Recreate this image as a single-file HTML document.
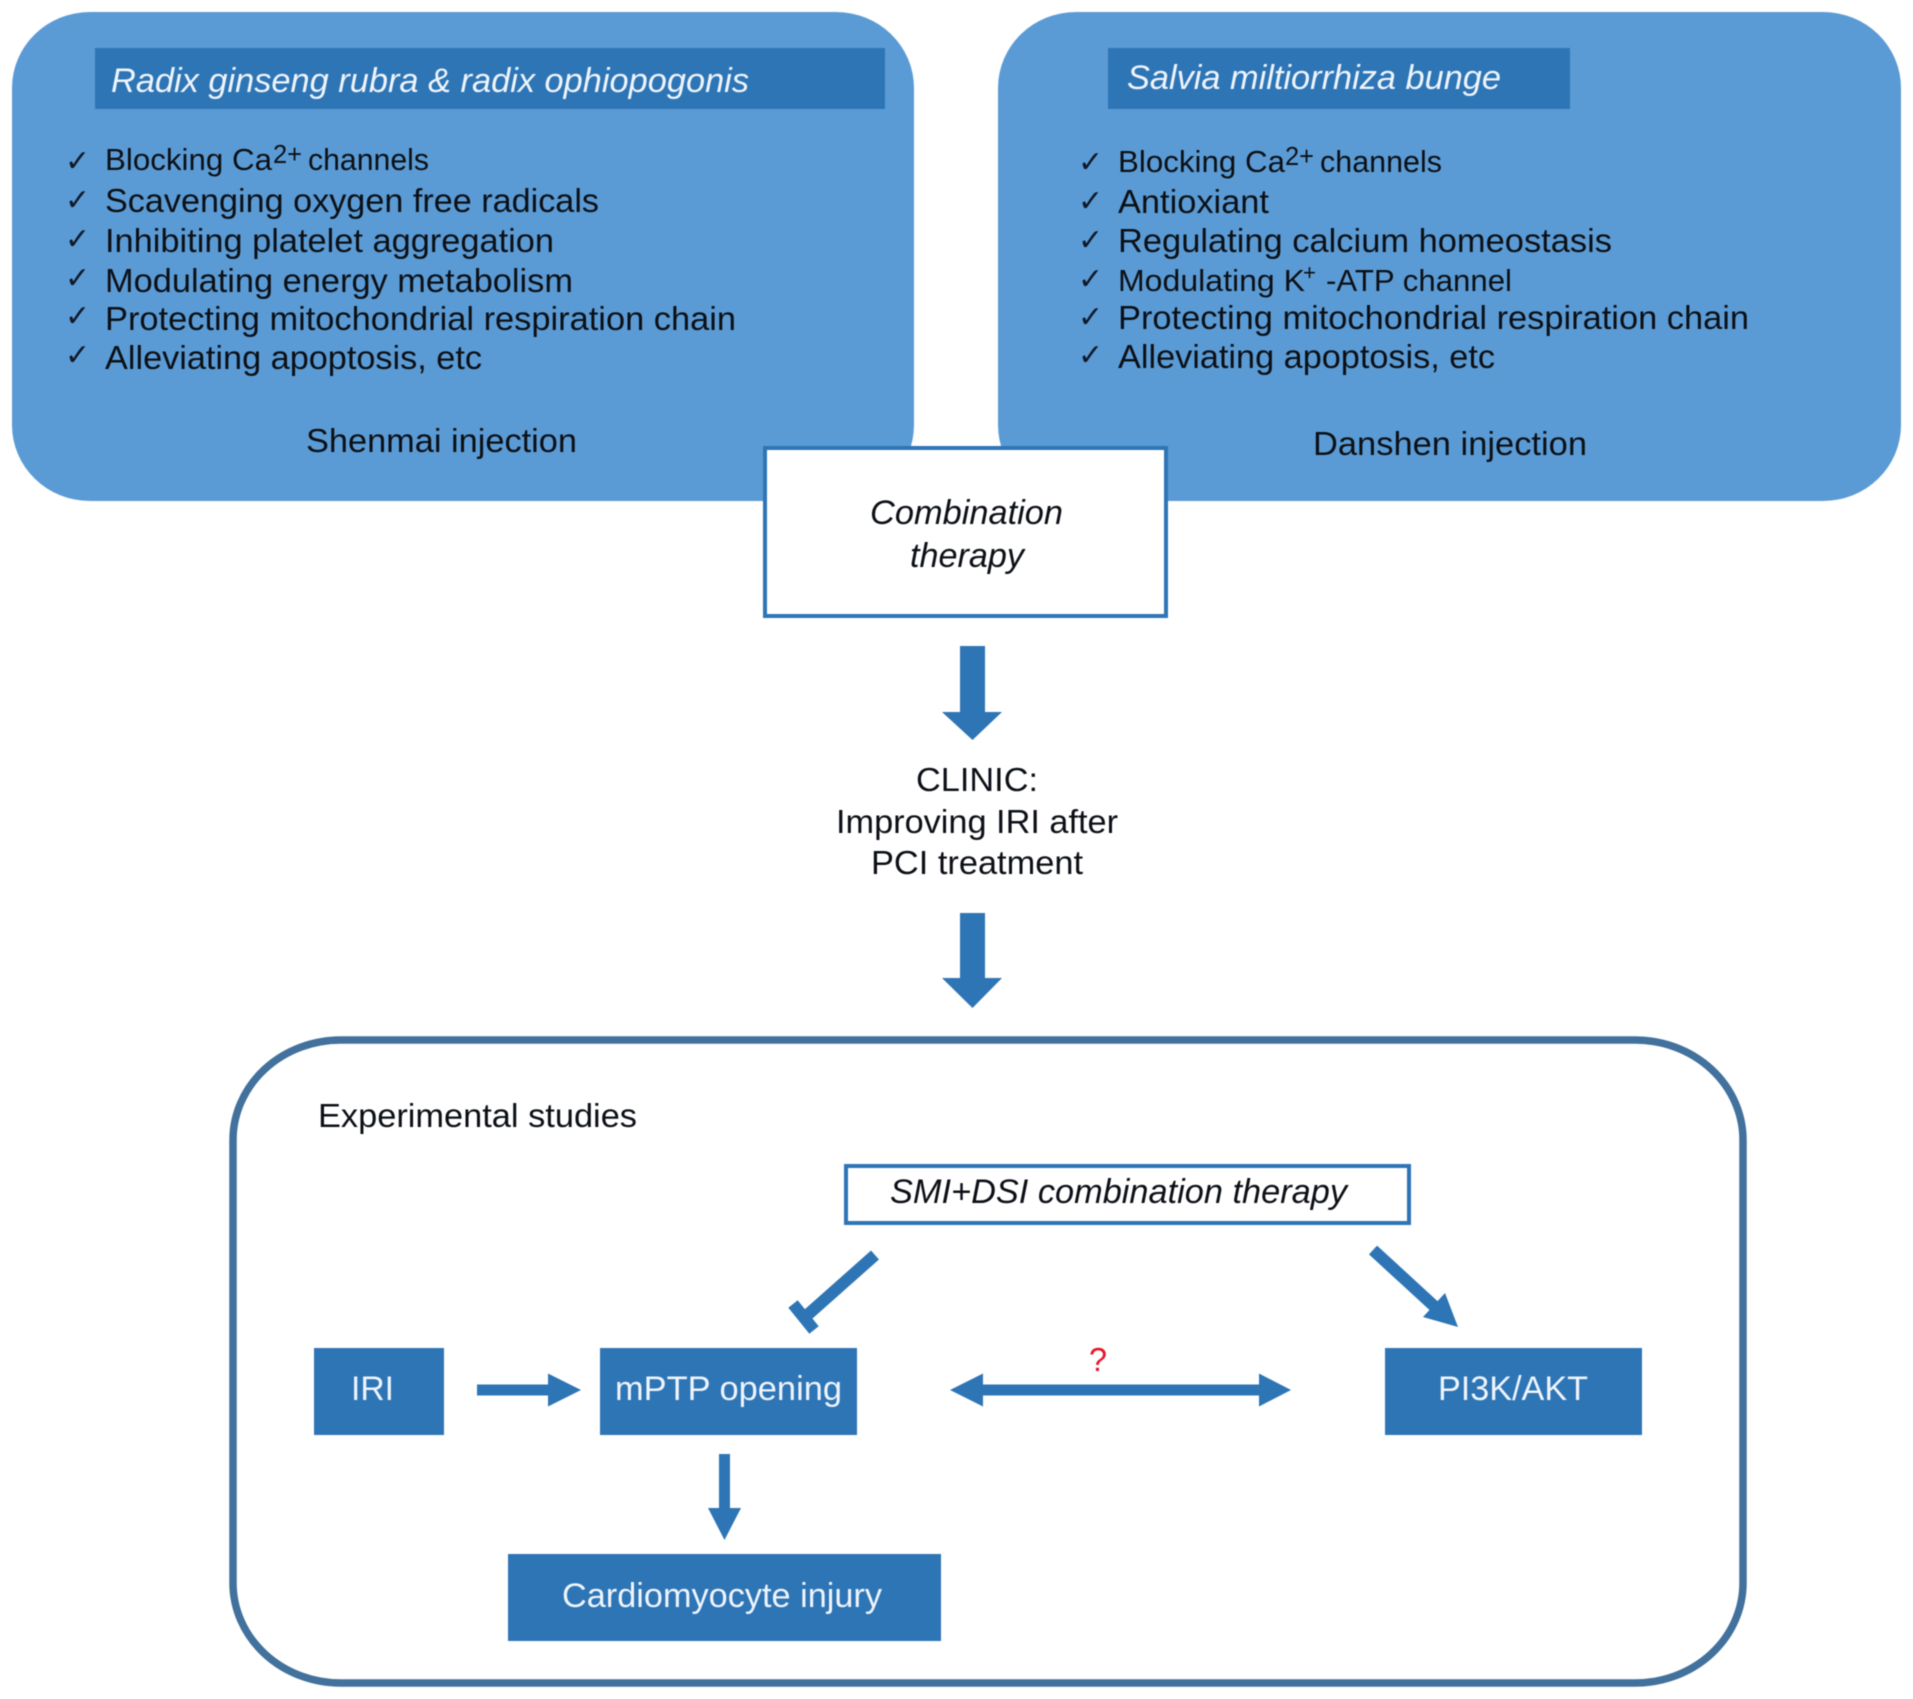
<!DOCTYPE html>
<html><head><meta charset="utf-8"><style>
html,body{margin:0;padding:0;background:#fff}
svg{display:block;filter:blur(0.5px)}
text{font-family:"Liberation Sans",sans-serif;fill:#0c1016}
.w{fill:#eef4fb}
.i{font-style:italic}
.c{font-family:"DejaVu Sans",sans-serif;font-size:30px;fill:#10192a}
</style></head><body>
<svg width="1913" height="1699" viewBox="0 0 1913 1699" xmlns="http://www.w3.org/2000/svg">
<rect width="1913" height="1699" fill="#fff"/>
<!-- panels -->
<rect x="12" y="12" width="902" height="489" rx="78" ry="76" fill="#5b9bd5"/>
<rect x="998" y="12" width="903" height="489" rx="78" ry="76" fill="#5b9bd5"/>
<rect x="95" y="48" width="790" height="61" fill="#2e75b6"/>
<rect x="1108" y="48" width="462" height="61" fill="#2e75b6"/>
<text class="w i" x="111" y="92" font-size="34" textLength="638" lengthAdjust="spacingAndGlyphs">Radix ginseng rubra &amp; radix ophiopogonis</text>
<text class="w i" x="1127" y="89" font-size="34" textLength="374" lengthAdjust="spacingAndGlyphs">Salvia miltiorrhiza bunge</text>

<!-- left list -->
<g font-size="33">
<text class="c" x="65" y="171">✓</text><text class="c" x="65" y="210">✓</text><text class="c" x="65" y="249">✓</text><text class="c" x="65" y="288">✓</text><text class="c" x="65" y="326">✓</text><text class="c" x="65" y="365">✓</text>
<text x="105" y="170" font-size="31" textLength="167" lengthAdjust="spacingAndGlyphs">Blocking Ca</text>
<text x="273" y="163" font-size="26" textLength="29" lengthAdjust="spacingAndGlyphs">2+</text>
<text x="308" y="170" font-size="31" textLength="121" lengthAdjust="spacingAndGlyphs">channels</text>
<text x="105" y="212" textLength="494" lengthAdjust="spacingAndGlyphs">Scavenging oxygen free radicals</text>
<text x="105" y="252" textLength="449" lengthAdjust="spacingAndGlyphs">Inhibiting platelet aggregation</text>
<text x="105" y="292" textLength="468" lengthAdjust="spacingAndGlyphs">Modulating energy metabolism</text>
<text x="105" y="330" textLength="631" lengthAdjust="spacingAndGlyphs">Protecting mitochondrial respiration chain</text>
<text x="105" y="369" textLength="377" lengthAdjust="spacingAndGlyphs">Alleviating apoptosis, etc</text>
<text x="306" y="452" textLength="271" lengthAdjust="spacingAndGlyphs">Shenmai injection</text>
</g>

<!-- right list -->
<g font-size="33">
<text class="c" x="1078" y="172">✓</text><text class="c" x="1078" y="211">✓</text><text class="c" x="1078" y="250">✓</text><text class="c" x="1078" y="289">✓</text><text class="c" x="1078" y="327">✓</text><text class="c" x="1078" y="365">✓</text>
<text x="1118" y="172" font-size="31" textLength="167" lengthAdjust="spacingAndGlyphs">Blocking Ca</text>
<text x="1285" y="165" font-size="26" textLength="29" lengthAdjust="spacingAndGlyphs">2+</text>
<text x="1320" y="172" font-size="31" textLength="122" lengthAdjust="spacingAndGlyphs">channels</text>
<text x="1118" y="213" textLength="151" lengthAdjust="spacingAndGlyphs">Antioxiant</text>
<text x="1118" y="252" textLength="494" lengthAdjust="spacingAndGlyphs">Regulating calcium homeostasis</text>
<text x="1118" y="291" font-size="31" textLength="187" lengthAdjust="spacingAndGlyphs">Modulating K</text>
<text x="1303" y="280" font-size="22" textLength="13" lengthAdjust="spacingAndGlyphs">+</text>
<text x="1326" y="291" font-size="31" textLength="186" lengthAdjust="spacingAndGlyphs">-ATP channel</text>
<text x="1118" y="329" textLength="631" lengthAdjust="spacingAndGlyphs">Protecting mitochondrial respiration chain</text>
<text x="1118" y="368" textLength="377" lengthAdjust="spacingAndGlyphs">Alleviating apoptosis, etc</text>
<text x="1313" y="455" textLength="274" lengthAdjust="spacingAndGlyphs">Danshen injection</text>
</g>

<!-- combination box -->
<rect x="765" y="448" width="401" height="168" fill="#fff" stroke="#2e75b6" stroke-width="4"/>
<text class="i" x="870" y="524" font-size="34" textLength="193" lengthAdjust="spacingAndGlyphs">Combination</text>
<text class="i" x="910" y="567" font-size="34" textLength="114" lengthAdjust="spacingAndGlyphs">therapy</text>

<!-- main arrows -->
<polygon fill="#2e75b6" points="960,646 985,646 985,712 1002,712 972.5,740 942,712 960,712"/>
<polygon fill="#2e75b6" points="960,913 985,913 985,978 1002,978 972.5,1008 942,978 960,978"/>

<text x="916" y="791" font-size="33" textLength="122" lengthAdjust="spacingAndGlyphs">CLINIC:</text>
<text x="836" y="833" font-size="33" textLength="282" lengthAdjust="spacingAndGlyphs">Improving IRI after</text>
<text x="871" y="874" font-size="33" textLength="212" lengthAdjust="spacingAndGlyphs">PCI treatment</text>

<!-- experimental -->
<rect x="233" y="1040" width="1510" height="643" rx="108" ry="100" fill="#fff" stroke="#41719c" stroke-width="7.5"/>
<text x="318" y="1127" font-size="33" textLength="319" lengthAdjust="spacingAndGlyphs">Experimental studies</text>

<rect x="846" y="1166" width="563" height="57" fill="#fff" stroke="#2e75b6" stroke-width="4"/>
<text class="i" x="890" y="1203" font-size="34" textLength="457" lengthAdjust="spacingAndGlyphs">SMI+DSI combination therapy</text>

<!-- inhibit -->
<path d="M875,1255 L804,1318" stroke="#2e75b6" stroke-width="12" fill="none"/>
<path d="M793,1304 L814,1330" stroke="#2e75b6" stroke-width="12" fill="none"/>

<!-- PI3K arrow -->
<path d="M1373,1250 L1434,1306" stroke="#2e75b6" stroke-width="12" fill="none"/>
<polygon fill="#2e75b6" points="1458,1327 1445,1293 1423,1317"/>

<!-- boxes -->
<rect x="314" y="1348" width="130" height="87" fill="#2e75b6"/>
<rect x="600" y="1348" width="257" height="87" fill="#2e75b6"/>
<rect x="1385" y="1348" width="257" height="87" fill="#2e75b6"/>
<rect x="508" y="1554" width="433" height="87" fill="#2e75b6"/>
<text class="w" x="351" y="1400" font-size="34" textLength="43" lengthAdjust="spacingAndGlyphs">IRI</text>
<text class="w" x="615" y="1400" font-size="34" textLength="227" lengthAdjust="spacingAndGlyphs">mPTP opening</text>
<text class="w" x="1438" y="1400" font-size="34" textLength="150" lengthAdjust="spacingAndGlyphs">PI3K/AKT</text>
<text class="w" x="562" y="1607" font-size="34" textLength="320" lengthAdjust="spacingAndGlyphs">Cardiomyocyte injury</text>

<!-- small arrows -->
<polygon fill="#2e75b6" points="477,1384.5 548,1384.5 548,1373.5 581,1390 548,1406.5 548,1395.5 477,1395.5"/>
<polygon fill="#2e75b6" points="719,1454 730,1454 730,1508 741,1508 724.5,1540 708,1508 719,1508"/>
<polygon fill="#2e75b6" points="950,1390 983,1373.5 983,1384.5 1259,1384.5 1259,1373.5 1291,1390 1259,1406.5 1259,1395.5 983,1395.5 983,1406.5"/>
<text x="1089" y="1371" font-size="33" style="fill:#e8142c" textLength="18" lengthAdjust="spacingAndGlyphs">?</text>
</svg>
</body></html>
